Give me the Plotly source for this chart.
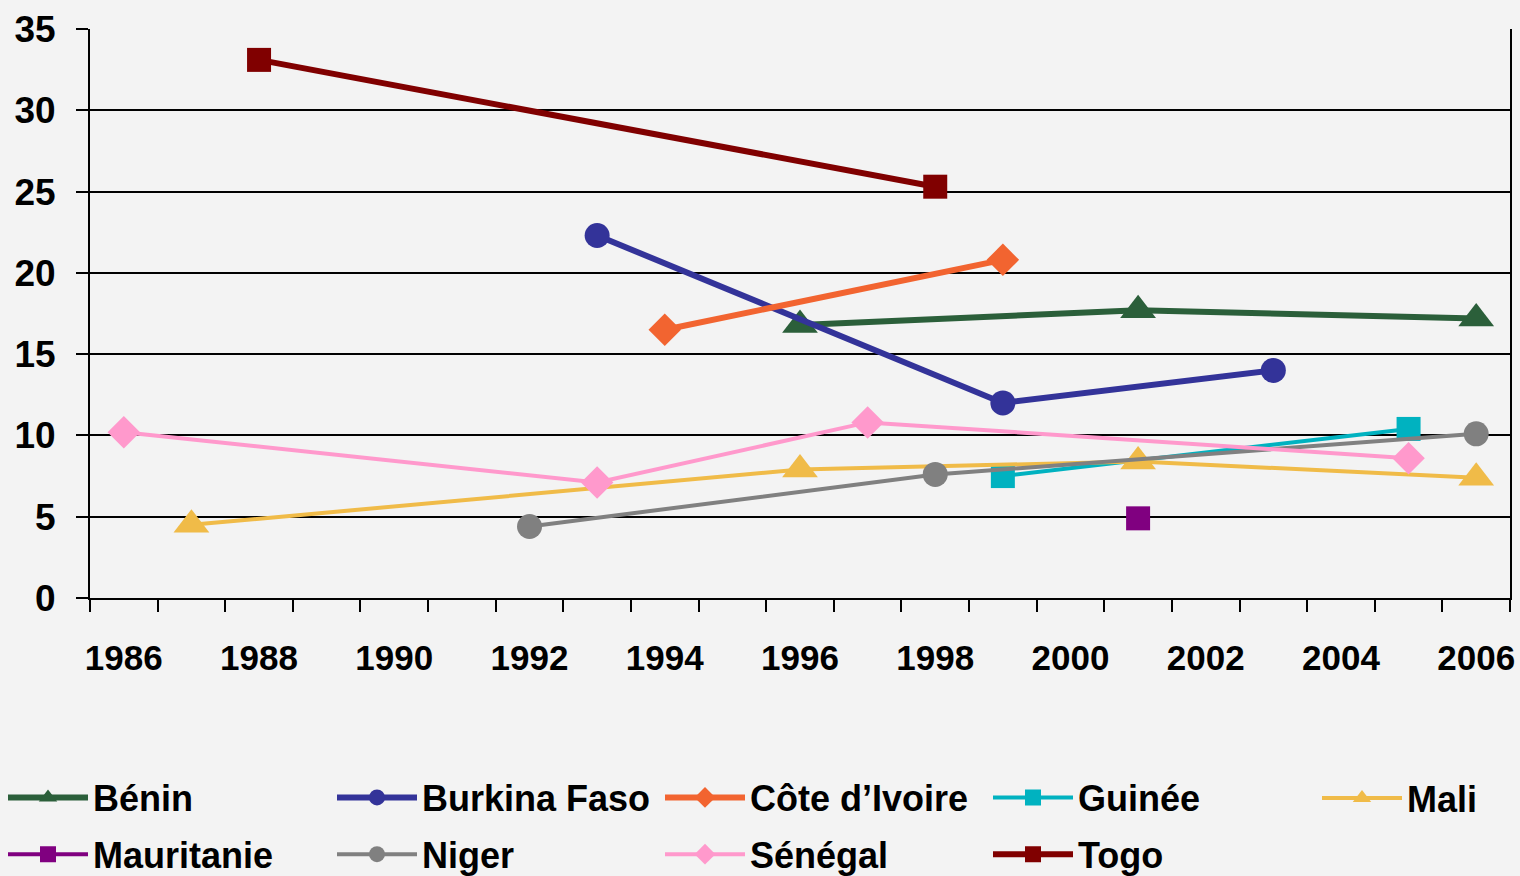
import plotly.graph_objects as go

# données
pays = ["Bénin", "Burkina Faso", "Côte d’Ivoire", "Guinée", "Mali",
        "Mauritanie", "Niger", "Sénégal", "Togo"]

benin_x = [1996, 2001, 2006]
benin_y = [16.8, 17.7, 17.2]
burkina_x = [1993, 1999, 2003]
burkina_y = [22.3, 12.0, 14.0]
cote_x = [1994, 1999]
cote_y = [16.5, 20.8]
guinee_x = [1999, 2005]
guinee_y = [7.5, 10.4]
mali_x = [1987, 1996, 2001, 2006]
mali_y = [4.5, 7.9, 8.4, 7.4]
mauritanie_x = [2001]
mauritanie_y = [4.9]
niger_x = [1992, 1998, 2006]
niger_y = [4.4, 7.6, 10.1]
senegal_x = [1986, 1993, 1997, 2005]
senegal_y = [10.2, 7.1, 10.8, 8.6]
togo_x = [1988, 1998]
togo_y = [33.1, 25.3]

annees_labels = [1986, 1988, 1990, 1992, 1994, 1996, 1998, 2000, 2002, 2004, 2006]

# (x, y, couleur, symbole, épaisseur, légende)
series = [
    (benin_x, benin_y, "#2b5f3a", "triangle-up", 6, "legend"),
    (burkina_x, burkina_y, "#333399", "circle", 6, "legend2"),
    (cote_x, cote_y, "#f26430", "diamond", 6, "legend3"),
    (guinee_x, guinee_y, "#00b2c0", "square", 4, "legend4"),
    (mali_x, mali_y, "#f0bb48", "triangle-up", 4, "legend5"),
    (mauritanie_x, mauritanie_y, "#800080", "square", 4, "legend"),
    (niger_x, niger_y, "#808080", "circle", 4, "legend2"),
    (senegal_x, senegal_y, "#ff99cc", "diamond", 4, "legend3"),
    (togo_x, togo_y, "#800000", "square", 6, "legend4"),
]
tailles = {"triangle-up": 31, "circle": 25, "diamond": 25, "square": 24}

fig = go.Figure()
for nom, (xs, ys, couleur, symb, lw, leg) in zip(pays, series):
    fig.add_trace(go.Scatter(
        x=xs, y=ys, name=nom, mode="lines+markers",
        line=dict(color=couleur, width=lw),
        marker=dict(symbol=symb, size=tailles[symb], color=couleur),
        legend=leg, legendgroup=nom,
    ))

W, H = 1520, 876
police_leg = dict(family="Liberation Sans, Arial, sans-serif", size=36,
                  color="black", weight="bold")


def legende(col_px, y_centre):
    # une légende par colonne pour garder la grille 5 x 2
    return dict(
        xref="container", yref="container",
        x=max(col_px - 5, 0) / W, xanchor="left",
        y=1 - y_centre / H, yanchor="middle",
        orientation="v",
        font=police_leg,
        bgcolor="rgba(0,0,0,0)",
        itemwidth=80,
        tracegroupgap=7,
    )


fig.update_layout(
    width=W, height=H,
    margin=dict(l=90, r=10, t=29, b=278, autoexpand=False),
    paper_bgcolor="#f3f3f3",
    plot_bgcolor="#f3f3f3",
    font=dict(family="Liberation Sans, Arial, sans-serif", size=34, color="black"),
    showlegend=True,
    legend=legende(8, 826),
    legend2=legende(337, 826),
    legend3=legende(665, 826),
    legend4=legende(993, 826),
    legend5=legende(1322, 798),
)

fig.update_xaxes(
    range=[1985.5, 2006.5],
    tickmode="array", tickvals=annees_labels,
    ticks="", ticklabelstandoff=28,
    tickfont=dict(size=35, weight="bold"),
    showgrid=False, zeroline=False,
    showline=True, linecolor="black", linewidth=2,
    minor=dict(ticks="outside", tick0=1985.5, dtick=1, ticklen=12,
               tickwidth=2, tickcolor="black", showgrid=False),
)

fig.update_yaxes(
    range=[0, 35], tickmode="linear", tick0=0, dtick=5,
    ticks="outside", ticklen=12, tickwidth=2, tickcolor="black",
    ticklabelstandoff=13,
    tickfont=dict(size=37, weight="bold"),
    showgrid=True, gridcolor="black", gridwidth=2,
    zeroline=False,
    showline=True, linecolor="black", linewidth=2, mirror=True,
)

# page sans marge ni barres de défilement
fig.write_html("out.html",
               config={"displayModeBar": False},
               post_script="document.body.style.margin='0';"
                           "document.body.style.overflow='hidden';")
